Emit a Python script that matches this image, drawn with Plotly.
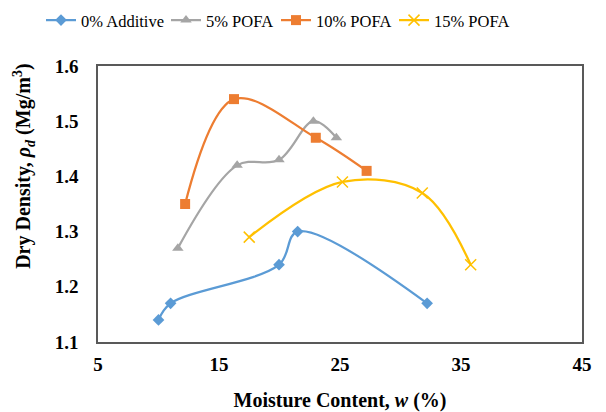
import plotly.graph_objects as go

names = ["0% Additive", "5% POFA", "10% POFA", "15% POFA"]
x0 = [10.0, 11.0, 19.96, 21.5, 32.2]
y0 = [1.14, 1.17, 1.24, 1.30, 1.17]
x5 = [11.6, 16.5, 19.96, 22.8, 24.7]
y5 = [1.27, 1.42, 1.43, 1.50, 1.47]
x10 = [12.2, 16.24, 23.0, 27.2]
y10 = [1.35, 1.54, 1.47, 1.41]
x15 = [17.5, 25.2, 31.8, 35.8]
y15 = [1.29, 1.39, 1.37, 1.24]
colors = ["#5B9BD5", "#A5A5A5", "#ED7D31", "#FFC000"]
symbols = ["diamond", "triangle-up", "square", "x-thin"]
x_ticks = [5, 15, 25, 35, 45]
y_ticks = [1.1, 1.2, 1.3, 1.4, 1.5, 1.6]

FONT = "Liberation Serif, Times New Roman, serif"
fig = go.Figure()
series = [(x0, y0), (x5, y5), (x10, y10), (x15, y15)]
sizes = [9, 10, 10, 11]
legend_ids = ["legend", "legend2", "legend3", "legend4"]
legend_x = [41, 166, 276, 394]
for i, (xs, ys) in enumerate(series):
    marker = dict(symbol=symbols[i], size=sizes[i], color=colors[i])
    if symbols[i] == "x-thin":
        marker["line"] = dict(color=colors[i], width=1.5)
    fig.add_trace(go.Scatter(
        x=xs, y=ys, name=names[i], mode="lines+markers", legend=legend_ids[i],
        line=dict(color=colors[i], width=2.25, shape="spline", smoothing=1.0),
        marker=marker,
    ))

legends = {}
for i, lid in enumerate(legend_ids):
    legends[lid] = dict(orientation="h", x=legend_x[i] / 606, xref="container",
                        xanchor="left", y=0.993, yref="container", yanchor="top",
                        font=dict(size=16.5, family=FONT), itemwidth=30,
                        bgcolor="rgba(0,0,0,0)")

fig.update_layout(
    width=606, height=412,
    margin=dict(l=98, r=24, t=66, b=70, autoexpand=False),
    paper_bgcolor="white", plot_bgcolor="white",
    font=dict(family=FONT, color="black"),
    showlegend=True,
    xaxis=dict(range=[5, 45], tickvals=x_ticks, showgrid=False, zeroline=False,
               showline=True, linecolor="#595959", linewidth=1.5, mirror=True,
               ticks="", ticklabelstandoff=4, automargin=False,
               tickfont=dict(size=19, family=FONT, weight="bold"),
               title=dict(text="<b>Moisture Content, <i>w</i> (%)</b>",
                          font=dict(size=20, family=FONT), standoff=20)),
    yaxis=dict(range=[1.1, 1.6], tickvals=y_ticks, tickformat=".1f", showgrid=False,
               zeroline=False, showline=True, linecolor="#595959", linewidth=1.5,
               mirror=True, ticks="", ticklabelstandoff=14, automargin=False,
               tickfont=dict(size=19, family=FONT, weight="bold")),
    annotations=[dict(
        text="<b>Dry Density, <i>ρ<sub>d</sub></i> (Mg/m<sup>3</sup>)</b>",
        xref="paper", yref="paper", x=-0.153, y=0.638, textangle=-90,
        showarrow=False, font=dict(size=20, family=FONT),
        xanchor="center", yanchor="middle")],
    **legends,
)
fig.write_html("out.html", config={"displayModeBar": False},
               post_script="document.body.style.margin='0';document.body.style.padding='0';")
